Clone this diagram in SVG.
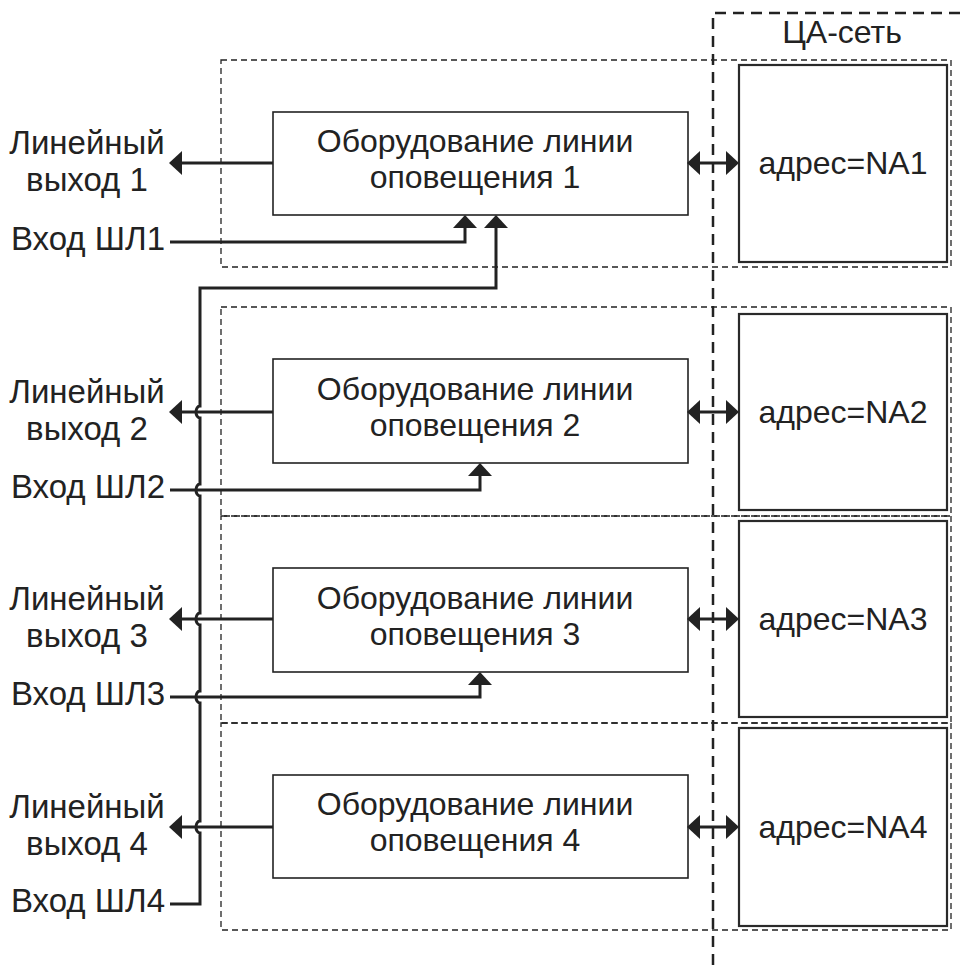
<svg xmlns="http://www.w3.org/2000/svg" width="963" height="965" viewBox="0 0 963 965">
<defs>
<style>
text{font-family:"Liberation Sans",Arial,sans-serif;fill:#222;}
.t{font-size:32px;text-anchor:middle;}
.l{font-size:33px;text-anchor:middle;}
.grp{fill:none;stroke:#222;stroke-width:1.3;stroke-dasharray:6 4;}
.box{fill:#fff;stroke:#222;stroke-width:1.6;}
.na{fill:#fff;stroke:#2a2a2a;stroke-width:2.2;}
.c{fill:none;stroke:#222;stroke-width:3;}
.arr{marker-end:url(#ah);}
.dbl{marker-end:url(#ah);marker-start:url(#ah);}
</style>
<marker id="ah" viewBox="0 0 13 24" refX="11" refY="12" markerWidth="13" markerHeight="24" markerUnits="userSpaceOnUse" orient="auto-start-reverse">
<path d="M0,0 L13,12 L0,24 z" fill="#222"/>
</marker>
</defs>
<rect width="963" height="965" fill="#fff"/>

<g id="groups">
<rect class="grp" x="221" y="60" width="730" height="207"/>
<rect class="grp" x="221" y="307" width="730" height="209"/>
<rect class="grp" x="221" y="516" width="730" height="207"/>
<rect class="grp" x="221" y="723" width="730" height="207"/>
</g>

<g id="ca-net">
<path d="M713,965 V13 H963" fill="none" stroke="#222" stroke-width="2.5" stroke-dasharray="11 7"/>
<text class="t" x="842" y="43">ЦА-сеть</text>
</g>

<g id="eq1">
<rect class="box" x="273" y="112" width="415" height="103"/>
<text class="t" x="475" y="152">Оборудование линии</text>
<text class="t" x="475" y="188">оповещения 1</text>
</g>
<g id="eq2">
<rect class="box" x="273" y="359" width="415" height="104"/>
<text class="t" x="475" y="400">Оборудование линии</text>
<text class="t" x="475" y="436">оповещения 2</text>
</g>
<g id="eq3">
<rect class="box" x="273" y="568" width="415" height="104"/>
<text class="t" x="475" y="609">Оборудование линии</text>
<text class="t" x="475" y="645">оповещения 3</text>
</g>
<g id="eq4">
<rect class="box" x="273" y="775" width="415" height="103"/>
<text class="t" x="475" y="815">Оборудование линии</text>
<text class="t" x="475" y="851">оповещения 4</text>
</g>

<g id="na1">
<rect class="na" x="739" y="65" width="208" height="197"/>
<text class="t" x="843" y="174">адрес=NA1</text>
</g>
<g id="na2">
<rect class="na" x="739" y="314" width="208" height="196"/>
<text class="t" x="843" y="423">адрес=NA2</text>
</g>
<g id="na3">
<rect class="na" x="739" y="521" width="208" height="196"/>
<text class="t" x="843" y="630">адрес=NA3</text>
</g>
<g id="na4">
<rect class="na" x="739" y="728" width="208" height="198"/>
<text class="t" x="843" y="838">адрес=NA4</text>
</g>

<g id="out1"><text class="l" x="87" y="154">Линейный</text><text class="l" x="87" y="191">выход 1</text></g>
<g id="in1"><text class="l" x="88" y="250">Вход ШЛ1</text></g>
<g id="out2"><text class="l" x="87" y="403">Линейный</text><text class="l" x="87" y="440">выход 2</text></g>
<g id="in2"><text class="l" x="88" y="498">Вход ШЛ2</text></g>
<g id="out3"><text class="l" x="87" y="610">Линейный</text><text class="l" x="87" y="647">выход 3</text></g>
<g id="in3"><text class="l" x="88" y="705">Вход ШЛ3</text></g>
<g id="out4"><text class="l" x="87" y="818">Линейный</text><text class="l" x="87" y="855">выход 4</text></g>
<g id="in4"><text class="l" x="88" y="912">Вход ШЛ4</text></g>

<g id="connectors">
<path class="c arr" d="M273,163 H171"/>
<path class="c arr" d="M273,412 H171"/>
<path class="c arr" d="M273,619 H171"/>
<path class="c arr" d="M273,827 H171"/>
<path class="c dbl" d="M689,163 H737"/>
<path class="c dbl" d="M689,412 H737"/>
<path class="c dbl" d="M689,619 H737"/>
<path class="c dbl" d="M689,827 H737"/>
<path class="c arr" d="M170,242 H465 V217"/>
<path class="c arr" d="M170,490 H480 V465"/>
<path class="c arr" d="M170,697 H480 V674"/>
<path class="c arr" d="M170,904 H200 V833 A4,6 0 0 1 200,821 V703 A4,6 0 0 1 200,691 V625 A4,6 0 0 1 200,613 V496 A4,6 0 0 1 200,484 V418 A4,6 0 0 1 200,406 V288 H496 V217"/>
</g>
</svg>
